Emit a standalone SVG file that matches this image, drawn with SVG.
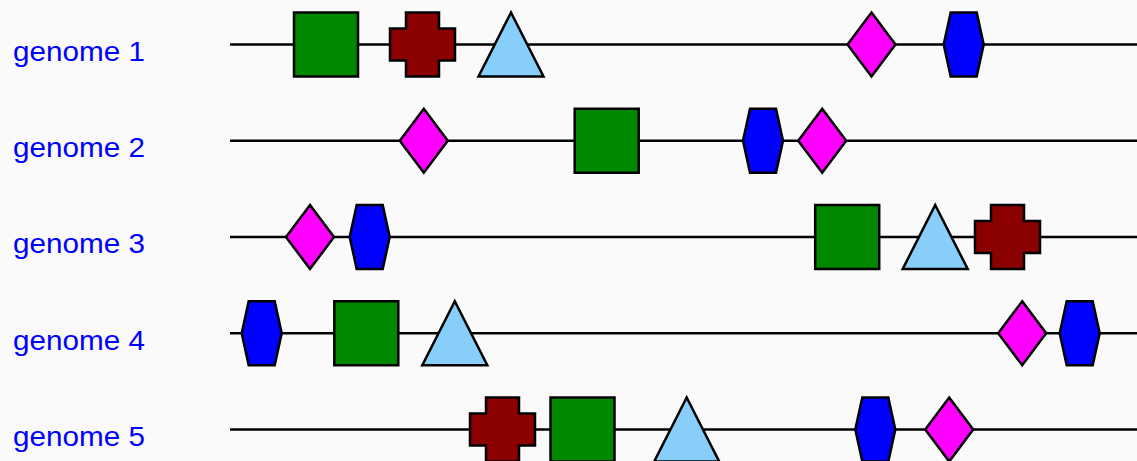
<svg xmlns="http://www.w3.org/2000/svg" xmlns:xlink="http://www.w3.org/1999/xlink" width="1137" height="461" viewBox="0 0 1137 461">
<style>
.bg{fill:#fafafa}
.line{stroke:#000;stroke-width:2.5;fill:none}
.shape{stroke:#000;stroke-width:2.5;stroke-linejoin:miter}
.sq{fill:#008800}
.cross{fill:#8b0000}
.tri{fill:#87cefa}
.dia{fill:#ff00ff}
.hex{fill:#0000ff}
.label{font-family:"Liberation Sans",Arial,sans-serif;font-size:28px;fill:#0000ff}
</style>
<defs>
<rect id="square" class="shape sq" x="-32" y="-32" width="64" height="64"/>
<polygon id="crossS" class="shape cross" points="-16.5,-32 16.5,-32 16.5,-16 32.5,-16 32.5,16 16.5,16 16.5,32 -16.5,32 -16.5,16 -32.5,16 -32.5,-16 -16.5,-16"/>
<polygon id="triangle" class="shape tri" points="0,-32 32.5,32 -32.5,32"/>
<polygon id="diamond" class="shape dia" points="0,-32 24,0 0,32 -24,0"/>
<polygon id="hexagon" class="shape hex" points="-13,-32 13,-32 20,0 13,32 -13,32 -20,0"/>
</defs>
<rect class="bg" x="0" y="0" width="1137" height="461"/>
<g id="labels">
<text id="label1" class="label" x="13" y="60.7" textLength="132" lengthAdjust="spacingAndGlyphs">genome 1</text>
<text id="label2" class="label" x="13" y="157" textLength="132" lengthAdjust="spacingAndGlyphs">genome 2</text>
<text id="label3" class="label" x="13" y="253.3" textLength="132" lengthAdjust="spacingAndGlyphs">genome 3</text>
<text id="label4" class="label" x="13" y="349.5" textLength="132" lengthAdjust="spacingAndGlyphs">genome 4</text>
<text id="label5" class="label" x="13" y="445.8" textLength="132" lengthAdjust="spacingAndGlyphs">genome 5</text>
</g>
<g id="connectors">
<line class="line" x1="230" y1="44.5" x2="1137" y2="44.5"/>
<line class="line" x1="230" y1="140.75" x2="1137" y2="140.75"/>
<line class="line" x1="230" y1="237" x2="1137" y2="237"/>
<line class="line" x1="230" y1="333.25" x2="1137" y2="333.25"/>
<line class="line" x1="230" y1="429.5" x2="1137" y2="429.5"/>
</g>
<g id="genome1">
<g id="g1-square"><use href="#square" xlink:href="#square" x="326" y="44.5"/></g>
<g id="g1-cross"><use href="#crossS" xlink:href="#crossS" x="422.5" y="44.5"/></g>
<g id="g1-triangle"><use href="#triangle" xlink:href="#triangle" x="511" y="44.5"/></g>
<g id="g1-diamond"><use href="#diamond" xlink:href="#diamond" x="871.5" y="44.5"/></g>
<g id="g1-hexagon"><use href="#hexagon" xlink:href="#hexagon" x="963.7" y="44.5"/></g>
</g>
<g id="genome2">
<g id="g2-diamond1"><use href="#diamond" xlink:href="#diamond" x="423.8" y="140.75"/></g>
<g id="g2-square"><use href="#square" xlink:href="#square" x="606.7" y="140.75"/></g>
<g id="g2-hexagon"><use href="#hexagon" xlink:href="#hexagon" x="763" y="140.75"/></g>
<g id="g2-diamond2"><use href="#diamond" xlink:href="#diamond" x="822.2" y="140.75"/></g>
</g>
<g id="genome3">
<g id="g3-diamond"><use href="#diamond" xlink:href="#diamond" x="310" y="237"/></g>
<g id="g3-hexagon"><use href="#hexagon" xlink:href="#hexagon" x="369.7" y="237"/></g>
<g id="g3-square"><use href="#square" xlink:href="#square" x="847.2" y="237"/></g>
<g id="g3-triangle"><use href="#triangle" xlink:href="#triangle" x="935.2" y="237"/></g>
<g id="g3-cross"><use href="#crossS" xlink:href="#crossS" x="1007.5" y="237"/></g>
</g>
<g id="genome4">
<g id="g4-hexagon1"><use href="#hexagon" xlink:href="#hexagon" x="261.7" y="333.25"/></g>
<g id="g4-square"><use href="#square" xlink:href="#square" x="366.3" y="333.25"/></g>
<g id="g4-triangle"><use href="#triangle" xlink:href="#triangle" x="454.8" y="333.25"/></g>
<g id="g4-diamond"><use href="#diamond" xlink:href="#diamond" x="1022.2" y="333.25"/></g>
<g id="g4-hexagon2"><use href="#hexagon" xlink:href="#hexagon" x="1079.7" y="333.25"/></g>
</g>
<g id="genome5">
<g id="g5-cross"><use href="#crossS" xlink:href="#crossS" x="502.5" y="429.5"/></g>
<g id="g5-square"><use href="#square" xlink:href="#square" x="582.5" y="429.5"/></g>
<g id="g5-triangle"><use href="#triangle" xlink:href="#triangle" x="686.7" y="429.5"/></g>
<g id="g5-hexagon"><use href="#hexagon" xlink:href="#hexagon" x="875.3" y="429.5"/></g>
<g id="g5-diamond"><use href="#diamond" xlink:href="#diamond" x="949.2" y="429.5"/></g>
</g>
</svg>
